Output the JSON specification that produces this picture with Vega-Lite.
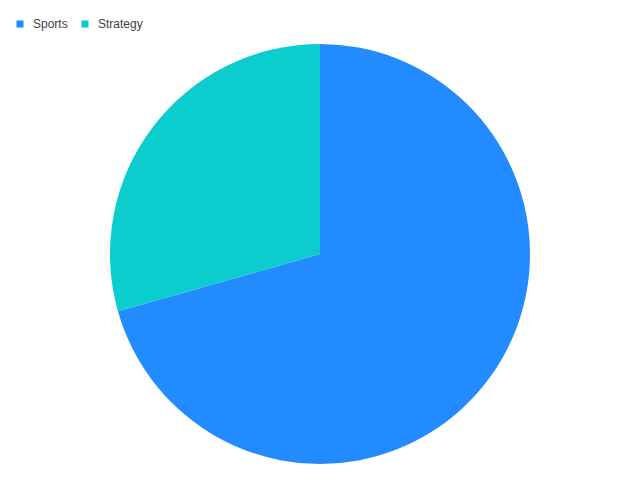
{
  "$schema": "https://vega.github.io/schema/vega-lite/v6.json",
  "width": 640,
  "height": 452,
  "autosize": "none",
  "padding": {"left": 0, "top": 28, "right": 0, "bottom": 0},
  "background": "white",
  "data": {"values": [
    {"genre": "Sports", "value": 70.6},
    {"genre": "Strategy", "value": 29.4}
  ]},
  "mark": {"type": "arc", "radius": 210},
  "encoding": {
    "theta": {"field": "value", "type": "quantitative", "stack": true},
    "color": {
      "field": "genre",
      "type": "nominal",
      "scale": {"domain": ["Sports", "Strategy"], "range": ["#228BFF", "#0CCDCD"]},
      "legend": {
        "title": null,
        "orient": "none",
        "direction": "horizontal",
        "legendX": 14,
        "legendY": -10,
        "symbolType": "square",
        "symbolSize": 50,
        "symbolStrokeWidth": 0,
        "labelFont": "Liberation Sans",
        "labelFontSize": 12,
        "labelColor": "#444444",
        "labelOffset": 7,
        "columnPadding": 11
      }
    }
  },
  "config": {"view": {"stroke": null}}
}
